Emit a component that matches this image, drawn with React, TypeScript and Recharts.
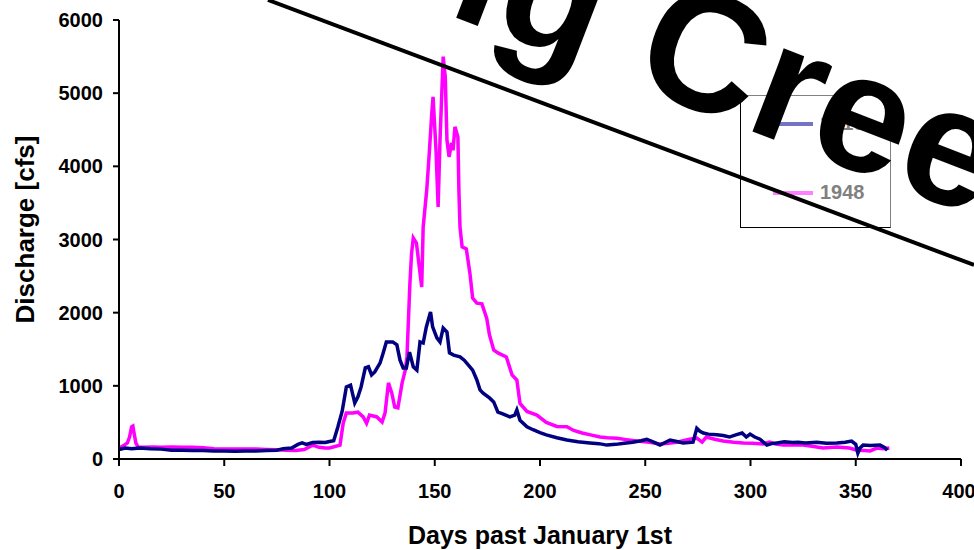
import { Label, Line, LineChart, XAxis, YAxis } from "recharts";

const days1916 = [0, 3, 6, 10, 15, 20, 25, 30, 35, 40, 45, 50, 55, 60, 65, 70, 75, 78, 82, 85, 87, 89, 92, 95, 98, 100, 102, 104, 106, 108, 110, 112, 113.5, 115, 117, 118.5, 120, 121.5, 124, 125.5, 127, 130, 132, 133.5, 135, 136.5, 138, 139.8, 141.5, 143, 144.5, 146, 148, 149, 151, 152.5, 154, 155.8, 157, 159, 162, 164, 166.7, 168, 170, 171.5, 173, 176, 178, 180, 182, 185.7, 188, 189, 190.5, 193.8, 196.7, 200, 203, 208, 212.8, 218, 223.7, 228, 231.8, 236, 240, 244, 248, 250.7, 254, 257, 261.8, 265, 268, 272.7, 274.5, 276, 277.6, 280, 284, 287, 290, 293, 296, 298, 299.8, 302, 304.5, 307.8, 310, 312.6, 316, 320, 322.7, 326, 331.5, 336, 341, 345, 348, 350, 351, 352, 353.5, 357, 361.5, 364, 365];
const flow1916 = [130, 150, 140, 150, 140, 135, 120, 120, 115, 115, 110, 110, 105, 110, 110, 115, 120, 140, 150, 200, 220, 200, 225, 230, 225, 240, 250, 440, 650, 985, 1010, 765, 850, 985, 1245, 1260, 1150, 1190, 1310, 1450, 1600, 1600, 1560, 1350, 1245, 1245, 1460, 1260, 1215, 1600, 1585, 1805, 2010, 1805, 1655, 1600, 1790, 1735, 1450, 1420, 1395, 1350, 1260, 1215, 1080, 945, 900, 835, 780, 640, 620, 575, 600, 670, 530, 440, 400, 360, 330, 290, 260, 235, 220, 210, 190, 200, 215, 230, 250, 270, 230, 190, 260, 240, 220, 230, 420, 380, 355, 340, 330, 320, 300, 330, 355, 300, 340, 300, 270, 190, 210, 220, 235, 225, 230, 220, 230, 215, 220, 230, 245, 200, 80, 150, 190, 185, 190, 150, 120];

const days1948 = [0, 2, 4, 5, 6, 6.6, 7, 8, 9, 12, 16, 20, 25, 30, 35, 40, 45, 50, 55, 60, 65, 70, 75, 80, 84, 88, 92, 95, 98, 100, 105, 106.5, 108, 111, 113.5, 116, 117.6, 119, 122.5, 125, 126.4, 128, 129.6, 131, 132.5, 134.5, 136, 136.8, 138.2, 139, 139.8, 141.3, 143, 143.8, 144.5, 146.2, 147.4, 148.6, 149.2, 150.6, 151.6, 152.5, 153.4, 154, 155, 155.8, 156.8, 158, 158.7, 159.6, 161, 161.5, 162, 163, 165, 166.7, 168, 170, 172.4, 174.7, 176, 178, 180, 184, 186.7, 189, 190.5, 193.8, 198.5, 203, 208, 212.8, 216, 220, 224, 228.5, 232, 236.6, 241, 246, 252, 257, 261, 265, 271, 274.5, 277, 279, 283, 287, 292, 296.5, 301, 306, 309, 312, 315.5, 320, 325, 330, 334.4, 341, 347, 350.6, 354, 356.8, 360, 363, 366];
const flow1948 = [150, 180, 220, 300, 440, 450, 380, 220, 165, 160, 165, 160, 165, 160, 160, 155, 140, 137, 137, 135, 137, 130, 125, 120, 115, 130, 190, 160, 150, 150, 190, 490, 630, 630, 640, 575, 490, 600, 575, 505, 630, 1040, 900, 710, 700, 1040, 1215, 1395, 2400, 2815, 3020, 2950, 2540, 2350, 3170, 3680, 4180, 4730, 4950, 4220, 3445, 4360, 5040, 5500, 5220, 4360, 4130, 4320, 4220, 4540, 4400, 3640, 3170, 2900, 2870, 2540, 2200, 2130, 2120, 1920, 1695, 1490, 1450, 1395, 1150, 1080, 760, 650, 600, 500, 445, 440, 390, 355, 330, 300, 290, 285, 265, 245, 230, 205, 215, 230, 270, 285, 230, 300, 270, 245, 230, 220, 215, 205, 230, 205, 190, 195, 190, 170, 150, 165, 150, 120, 115, 110, 150, 140, 150];

const dayTicks = [0, 50, 100, 150, 200, 250, 300, 350, 400];
const flowTicks = [0, 1000, 2000, 3000, 4000, 5000, 6000];
const seriesNames = ["1916", "1948"];

const font = "'Liberation Sans', Arial, sans-serif";
const tickStyle = { fill: "#000", fontSize: 20, fontWeight: 700, fontFamily: font };

const data1916 = days1916.map((day, i) => ({ day, q: flow1916[i] }));
const data1948 = days1948.map((day, i) => ({ day, q: flow1948[i] }));

function XTitle({ viewBox }: any) {
  return (
    <text x={viewBox.x + viewBox.width / 2} y={544} textAnchor="middle" fontSize={25} fontWeight={700} fontFamily={font} fill="#000">
      Days past January 1st
    </text>
  );
}

function YTitle({ viewBox }: any) {
  const cy = viewBox.y + viewBox.height / 2 - 10;
  return (
    <text x={34} y={cy} transform={`rotate(-90, 34, ${cy})`} textAnchor="middle" fontSize={26} fontWeight={700} fontFamily={font} fill="#000">
      Discharge [cfs]
    </text>
  );
}

function LegendBox() {
  const colors = ["#7474c4", "#ff80ff"];
  return (
    <div style={{ position: "absolute", left: 740, top: 95, width: 149, height: 131, borderLeft: "1px solid #000", borderBottom: "1px solid #000", borderTop: "1px solid #808080", borderRight: "1px solid #808080", fontFamily: font }}>
      {seriesNames.map((name, i) => (
        <div key={name} style={{ position: "absolute", left: 32, top: i === 0 ? 16 : 85, display: "flex", alignItems: "center" }}>
          <div style={{ width: 40, height: 4, background: colors[i] }} />
          <span style={{ marginLeft: 7, fontSize: 20, fontWeight: 700, color: "#808080" }}>{name}</span>
        </div>
      ))}
    </div>
  );
}

export default function App() {
  return (
    <div style={{ position: "absolute", left: 0, top: 0, width: 974, height: 550, overflow: "hidden", background: "#fff" }}>
      <LineChart width={974} height={550} margin={{ top: 20, right: 13, bottom: 0, left: 0 }}>
        <XAxis type="number" dataKey="day" domain={[0, 400]} ticks={dayTicks} height={91} tick={tickStyle} tickSize={7} tickMargin={18} axisLine={{ stroke: "#000", strokeWidth: 2 }} tickLine={{ stroke: "#000", strokeWidth: 2 }}>
          <Label content={<XTitle />} />
        </XAxis>
        <YAxis type="number" dataKey="q" domain={[0, 6000]} ticks={flowTicks} width={119} tick={tickStyle} tickSize={6} tickMargin={10} axisLine={{ stroke: "#000", strokeWidth: 2 }} tickLine={{ stroke: "#000", strokeWidth: 2 }}>
          <Label content={<YTitle />} />
        </YAxis>
        <Line data={data1948} dataKey="q" name={seriesNames[1]} type="linear" stroke="#ff00ff" strokeWidth={3.5} dot={false} isAnimationActive={false} />
        <Line data={data1916} dataKey="q" name={seriesNames[0]} type="linear" stroke="#000080" strokeWidth={3.5} dot={false} isAnimationActive={false} />
      </LineChart>
      <LegendBox />
      <svg width={974} height={550} style={{ position: "absolute", left: 0, top: 0, pointerEvents: "none" }}>
        <line x1={268} y1={0} x2={974} y2={265} stroke="#000" strokeWidth={4} />
        <text x={332} y={-30} transform="rotate(21, 332, -30)" fontSize={168} fontWeight={700} fontFamily={font} fill="#000">
          Big Creek
        </text>
      </svg>
    </div>
  );
}
